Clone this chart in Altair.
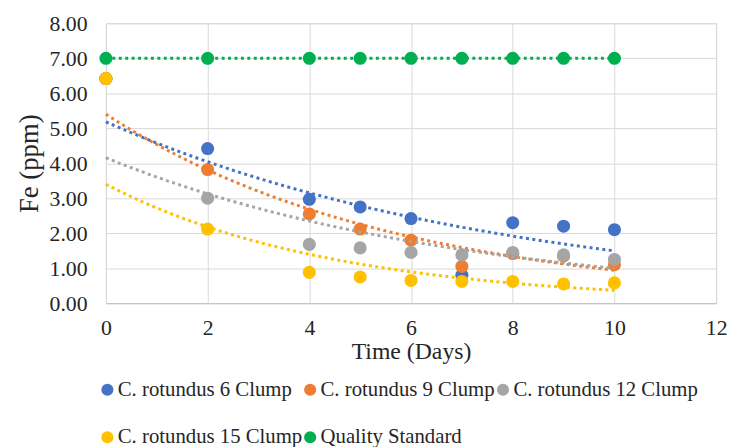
import altair as alt
import numpy as np
import pandas as pd

days = [0, 2, 4, 5, 6, 7, 8, 9, 10]
clump6 = [6.42, 4.42, 2.97, 2.75, 2.42, 0.80, 2.30, 2.20, 2.10]
clump9 = [6.42, 3.82, 2.55, 2.12, 1.80, 1.05, 1.42, 1.35, 1.10]
clump12 = [6.42, 3.00, 1.68, 1.58, 1.45, 1.38, 1.45, 1.38, 1.25]
clump15 = [6.42, 2.12, 0.88, 0.75, 0.65, 0.62, 0.62, 0.55, 0.58]
standard = [7.00, 7.00, 7.00, 7.00, 7.00, 7.00, 7.00, 7.00, 7.00]

series_names = [
    "C. rotundus 6 Clump",
    "C. rotundus 9 Clump",
    "C. rotundus 12 Clump",
    "C. rotundus 15 Clump",
    "Quality Standard",
]
colors = ["#4472C4", "#ED7D31", "#A5A5A5", "#FFC000", "#00B050"]
x_ticks = [0, 2, 4, 6, 8, 10, 12]
y_ticks = [0, 1, 2, 3, 4, 5, 6, 7, 8]

all_series = [clump6, clump9, clump12, clump15, standard]

rows = []
for name, vals in zip(series_names, all_series):
    for d, v in zip(days, vals):
        rows.append({"day": d, "fe": v, "series": name})
points_df = pd.DataFrame(rows)

# Exponential trendlines (least squares on log values, as in a spreadsheet)
trend_rows = []
xs = np.linspace(0, 10, 61)
for name, vals in zip(series_names[:4], all_series[:4]):
    b, a = np.polyfit(np.array(days, dtype=float), np.log(np.array(vals)), 1)
    for xv in xs:
        trend_rows.append({"day": float(xv), "fe": float(np.exp(a + b * xv)), "series": name})
trend_df = pd.DataFrame(trend_rows)

std_df = points_df[points_df["series"] == "Quality Standard"]

FONT = "Liberation Serif"
TEXT = "#262626"
GRID = "#d9d9d9"

color_scale = alt.Scale(domain=series_names, range=colors)

x_enc = alt.X(
    "day:Q",
    scale=alt.Scale(domain=[0, 12], nice=False),
    axis=alt.Axis(
        values=x_ticks, title="Time (Days)", grid=True, gridColor=GRID,
        domainColor="#bfbfbf", tickSize=0, labelPadding=15,
        labelFont=FONT, labelFontSize=22, labelColor=TEXT,
        titleFont=FONT, titleFontSize=24, titleFontWeight="normal",
        titleColor=TEXT, titlePadding=1, labelFlush=False,
    ),
)
y_enc = alt.Y(
    "fe:Q",
    scale=alt.Scale(domain=[0, 8], nice=False),
    axis=alt.Axis(
        values=y_ticks, format=".2f", title="Fe (ppm)", grid=True,
        gridColor=GRID, domainColor=GRID, tickSize=0, labelPadding=19,
        labelFont=FONT, labelFontSize=22, labelColor=TEXT,
        titleFont=FONT, titleFontSize=27, titleFontWeight="normal",
        titleColor=TEXT, titlePadding=6,
    ),
)

legend = alt.Legend(
    title=None, orient="none", legendX=-9, legendY=360,
    direction="horizontal", columns=3, gridAlign="none",
    symbolType="circle", symbolSize=150, symbolStrokeWidth=0,
    symbolOpacity=1, labelFont=FONT, labelFontSize=21, labelColor=TEXT,
    labelOffset=0, columnPadding=-3, rowPadding=26, padding=0,
    labelLimit=400,
)
color_enc = alt.Color("series:N", scale=color_scale, legend=legend)

std_line = alt.Chart(std_df).mark_line(
    strokeDash=[3, 3.5], strokeWidth=3
).encode(x=x_enc, y=y_enc, color=color_enc)

pts = alt.Chart(points_df).mark_point(
    filled=True, size=175, opacity=1, shape="circle"
).encode(x=x_enc, y=y_enc, color=color_enc)

trend = alt.Chart(trend_df).mark_line(
    strokeDash=[3, 3.5], strokeWidth=3
).encode(x=x_enc, y=y_enc, color=color_enc, detail="series:N")

chart = alt.layer(std_line, pts, trend).properties(
    width=617, height=283,
    autosize=alt.AutoSizeParams(type="none"),
    padding={"left": 99, "top": 13, "right": 12, "bottom": 147},
).configure_view(stroke=None).configure(background="white")

chart.save("out.html", embed_options={"renderer": "svg", "actions": False})
